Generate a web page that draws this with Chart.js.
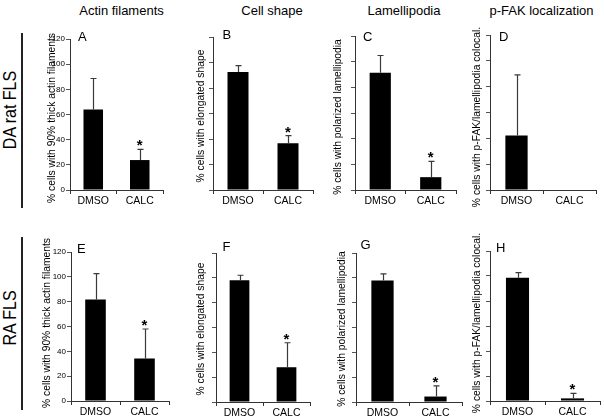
<!DOCTYPE html>
<html>
<head>
<meta charset="utf-8">
<script src="https://cdn.jsdelivr.net/npm/chart.js@4/dist/chart.umd.min.js"></script>
<style>
  html, body { margin: 0; padding: 0; background: #fff; }
  #fig { position: relative; width: 604px; height: 420px; overflow: hidden; background: #fff;
         font-family: "Liberation Sans", Arial, sans-serif; color: #000; }
  canvas { position: absolute; }
  .txt { position: absolute; white-space: nowrap; line-height: 1; }
  .rot { position: absolute; white-space: nowrap; line-height: 1;
         transform: translate(-50%, -50%) rotate(-90deg); }
  .rowlab { position: absolute; white-space: nowrap; line-height: 1;
         transform: translate(-50%, -50%) rotate(-90deg) scaleY(1.2); }
  .vline { position: absolute; background: #222; width: 1.5px; }
</style>
</head>
<body>
<div id="fig"></div>
<script>
// ---------------- data ----------------
const categories = ['DMSO', 'CALC'];
const columnTitles = ['Actin filaments', 'Cell shape', 'Lamellipodia', 'p-FAK localization'];
const rowLabels = ['DA rat FLS', 'RA FLS'];
const yAxisTitles = [
  '% cells with 90% thick actin filaments',
  '% cells with elongated shape',
  '% cells with polarized lamellipodia',
  '% cells with p-FAK/lamellipodia colocal.'
];
const panelLetters = ['A', 'B', 'C', 'D', 'E', 'F', 'G', 'H'];
const yMin = 0, yMax = 120, yStep = 20;

// DA rat FLS (top row)
const actinDA    = [64.0, 23.8];  const actinDAErr = [24.6, 8.5];
const shapeDA    = [92.6, 36.6];  const shapeDAErr = [5.0, 6.1];
const lamelDA    = [91.3, 10.0];  const lamelDAErr = [13.5, 12.3];
const pfakDA     = [42.1, 0];     const pfakDAErr  = [47.0, 0];
// RA FLS (bottom row)
const actinRA    = [81.7, 34.3];  const actinRAErr = [20.9, 23.7];
const shapeRA    = [98.1, 28.0];  const shapeRAErr = [4.0, 19.7];
const lamelRA    = [97.9, 4.4];   const lamelRAErr = [5.3, 8.6];
const pfakRA     = [98.7, 2.1];   const pfakRAErr  = [4.0, 4.0];
// significance marks (asterisk over CALC)
const sigDA = [[false, true], [false, true], [false, true], [false, false]];
const sigRA = [[false, true], [false, true], [false, true], [false, true]];

const panelValues = [actinDA, shapeDA, lamelDA, pfakDA, actinRA, shapeRA, lamelRA, pfakRA];
const panelErrors = [actinDAErr, shapeDAErr, lamelDAErr, pfakDAErr, actinRAErr, shapeRAErr, lamelRAErr, pfakRAErr];
const panelSig = sigDA.concat(sigRA);

// ---------------- layout (pixel geometry of each plot area) ----------------
const geom = [
  { x0: 70,  x1: 163, yt: 39,  y0: 190, title: [51.5, 118],  letter: [78, 29.5] },
  { x0: 213, x1: 313, yt: 37,  y0: 190, title: [201, 116], letter: [222.5, 27.5] },
  { x0: 355, x1: 456, yt: 36,  y0: 190, title: [337.5, 117], letter: [363, 29.5] },
  { x0: 490, x1: 596, yt: 35,  y0: 190, title: [477, 117], letter: [499, 29.5] },
  { x0: 71,  x1: 169, yt: 252, y0: 401, title: [46.5, 323],  letter: [77, 241.5] },
  { x0: 216, x1: 310, yt: 253, y0: 402, title: [201, 329], letter: [222.5, 239.5] },
  { x0: 356, x1: 462, yt: 253, y0: 402, title: [342, 329], letter: [360.5, 237.5] },
  { x0: 490, x1: 600, yt: 251, y0: 401, title: [477, 323], letter: [496, 240.5] }
];
const colTitlePos = [121.5, 272, 404, 541.5];
const FONT = '"Liberation Sans", Arial, sans-serif';

const fig = document.getElementById('fig');

function addText(cls, text, css) {
  const d = document.createElement('div');
  d.className = cls;
  d.textContent = text;
  Object.assign(d.style, css);
  fig.appendChild(d);
  return d;
}

// column titles
columnTitles.forEach((t, i) => {
  addText('txt', t, { left: colTitlePos[i] + 'px', top: '4px', fontSize: '13px', transform: 'translateX(-50%)' });
});
// row labels and their vertical rules
addText('rowlab', rowLabels[0], { left: '10px', top: '110px', fontSize: '16px' });
addText('rowlab', rowLabels[1], { left: '10px', top: '318px', fontSize: '16px' });
[[33, 208], [237, 410]].forEach(([a, b]) => {
  const l = document.createElement('div');
  l.className = 'vline';
  Object.assign(l.style, { left: '21px', top: a + 'px', height: (b - a) + 'px' });
  fig.appendChild(l);
});

// error bar + asterisk plugin
const errorBarPlugin = {
  id: 'errorBars',
  afterDatasetsDraw(chart, args, opts) {
    const ctx = chart.ctx;
    const y = chart.scales.y;
    const meta = chart.getDatasetMeta(0);
    const data = chart.data.datasets[0].data;
    ctx.save();
    meta.data.forEach((bar, i) => {
      const v = data[i], e = opts.errors[i];
      const top = y.getPixelForValue(v + e);
      if (e > 0) {
        const base = y.getPixelForValue(v);
        const x = Math.round(bar.x) + 0.5;
        ctx.strokeStyle = '#3a3a3a';
        ctx.lineWidth = 1.2;
        ctx.beginPath();
        ctx.moveTo(x, base);
        ctx.lineTo(x, top);
        ctx.moveTo(x - 3, top);
        ctx.lineTo(x + 3, top);
        ctx.stroke();
      }
      if (opts.sig[i]) {
        ctx.fillStyle = '#000';
        ctx.font = 'bold 15px ' + FONT;
        ctx.textAlign = 'center';
        ctx.textBaseline = 'alphabetic';
        ctx.fillText('*', bar.x, top + 1);
      }
    });
    ctx.restore();
  }
};

const L = 40, T = 8, R = 6, B = 26;
geom.forEach((g, i) => {
  const col = i % 4;
  const showLabels = col === 0;
  const cv = document.createElement('canvas');
  const w = g.x1 - g.x0 + L + R;
  const h = g.y0 - g.yt + T + B;
  cv.width = w; cv.height = h;
  Object.assign(cv.style, { left: (g.x0 - L) + 'px', top: (g.yt - T) + 'px', width: w + 'px', height: h + 'px' });
  fig.appendChild(cv);

  new Chart(cv.getContext('2d'), {
    type: 'bar',
    data: {
      labels: categories,
      datasets: [{
        data: panelValues[i],
        backgroundColor: '#000',
        borderWidth: 0,
        categoryPercentage: 1,
        barPercentage: 0.42
      }]
    },
    options: {
      responsive: false,
      animation: false,
      devicePixelRatio: 1,
      events: [],
      layout: { padding: { top: T, right: R, left: 0, bottom: 0 }, autoPadding: false },
      plugins: {
        legend: { display: false },
        tooltip: { enabled: false },
        errorBars: { errors: panelErrors[i], sig: panelSig[i] }
      },
      scales: {
        x: {
          grid: { display: true, drawOnChartArea: false, drawTicks: true, tickLength: 4, color: '#333', offset: true },
          border: { display: true, color: '#333', width: 1 },
          ticks: { color: '#000', font: { family: FONT, size: 10.5 }, padding: 1, maxRotation: 0, autoSkip: false },
          afterFit: s => { s.height = B; }
        },
        y: {
          min: yMin, max: yMax,
          grid: { display: true, drawOnChartArea: false, drawTicks: true, tickLength: 4, color: '#555' },
          border: { display: true, color: '#333', width: 1 },
          ticks: { stepSize: yStep, display: showLabels, color: '#000', font: { family: FONT, size: 8 }, padding: 1 },
          afterFit: s => { s.width = L; }
        }
      }
    },
    plugins: [errorBarPlugin]
  });

  // y-axis title and panel letter
  addText('rot', yAxisTitles[col], { left: g.title[0] + 'px', top: g.title[1] + 'px', fontSize: '10.3px' });
  addText('txt', panelLetters[i], { left: g.letter[0] + 'px', top: g.letter[1] + 'px', fontSize: '13px' });
});
</script>
</body>
</html>
